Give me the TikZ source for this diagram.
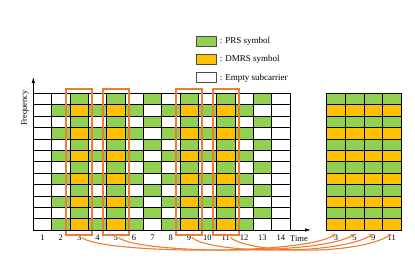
\documentclass[tikz,border=0pt]{standalone}
\usepackage{fontspec}
\setmainfont{Liberation Serif}
\usepackage{tikz}
\usetikzlibrary{arrows.meta,positioning}
\definecolor{prs}{HTML}{92D050}
\definecolor{dmrs}{HTML}{FFC000}
\definecolor{frame}{HTML}{ED7D31}

\begin{document}
\begin{tikzpicture}[x=1pt,y=-1pt,
  cell/.style={draw=black,line width=0.5pt,minimum width=18.33pt,minimum height=11.4pt,inner sep=0pt},
  lbl/.style={font=\fontsize{8.5}{9}\selectfont,inner sep=0.5pt},
  selbox/.style={draw=frame,line width=1.8pt},
  link/.style={draw=frame,line width=1.1pt,-{Stealth[length=4.5pt,width=4pt]}},
  axis/.style={line width=0.8pt,-{Latex[length=6pt,width=3.5pt]}}]
  \useasboundingbox (0,0) rectangle (415,272);
  \def\cc#1{\ifcase#1 white\or prs\or dmrs\fi}
  % subframe: 14 symbols x 12 subcarriers
  \foreach \t [count=\i] in {0,1,2,1,2,1,3,1,2,1,2,1,3,0}{
     \foreach \r in {1,...,12}{
        \pgfmathtruncatemacro{\p}{mod(\r,2)}
        \pgfmathtruncatemacro{\k}{(\t==1)*(1-\p)+(\t==2)*(2-\p)+(\t==3)*\p}
        \node[cell,fill=\cc{\k}] (g\i-\r) at ({33.3+(\i-0.5)*18.33},{93.3+(\r-0.5)*11.4}) {};}
     \node[lbl] (t\i) at ({33.3+(\i-0.5)*18.33},237.5) {\i};
  }
  % extracted symbols
  \foreach \s [count=\j] in {3,5,9,11}{
     \foreach \r in {1,...,12}{
        \pgfmathtruncatemacro{\k}{2-mod(\r,2)}
        \node[cell,fill=\cc{\k},minimum width=18.57pt] (h\j-\r) at ({326.7+(\j-0.5)*18.57},{93.3+(\r-0.5)*11.4}) {};}
     \node[lbl] (s\s) at ({326.7+(\j-0.5)*18.57},237.5) {\s};
     \draw[selbox] ([shift={(-3.5,-4)}]g\s-1.north west) rectangle ([shift={(3.5,4.3)}]g\s-12.south east);
  }
  \foreach \s in {3,5,9,11}
     \draw[link] (t\s.east) .. controls +(18,16) and +(-35,22) .. (s\s.north);
  % axes
  \coordinate (o) at (33.3,230);
  \coordinate (fy) at (33.3,77);
  \coordinate (tx) at (311,230);
  \draw[axis] (o) -- (fy);
  \draw[axis] (o) -- (tx);
  \node[lbl,rotate=90] (freq) at (25,108) {Frequency};
  \node[lbl] (time) at (299,238.5) {Time};
  % legend
  \foreach \k/\txt [count=\n] in {1/PRS symbol,2/DMRS symbol,0/Empty subcarrier}{
     \node[cell,fill=\cc{\k},draw=black!70,line width=0.8pt,minimum width=20pt,minimum height=10pt] (key\n) at (206.7,{41.3+(\n-1)*18.3}) {};
     \node[lbl,anchor=west,font=\fontsize{9}{10}\selectfont] (keytxt\n) at ([xshift=2pt]key\n.east) {: \txt};}
\end{tikzpicture}
\end{document}
